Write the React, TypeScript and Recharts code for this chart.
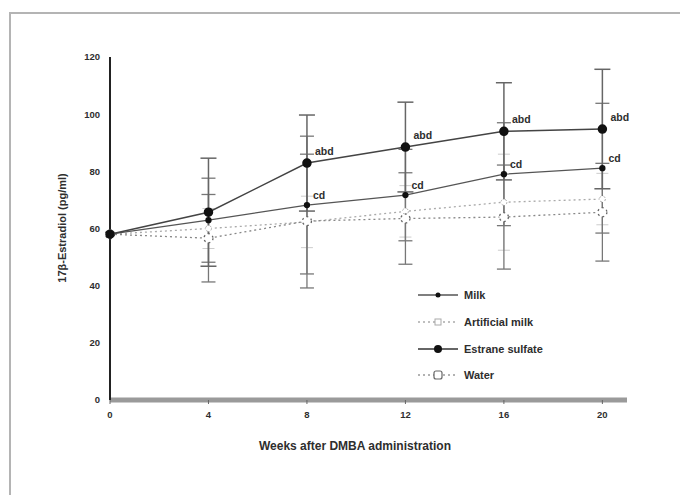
import {
  ErrorBar,
  LabelList,
  Legend,
  Line,
  LineChart,
  XAxis,
  YAxis,
} from 'recharts'

const weeks = [0, 4, 8, 12, 16, 20]
const milk = [58, 62.9, 68.2, 71.7, 79, 81.1]
const artificialMilk = [58, 60, 62.3, 66, 69.2, 70.3]
const estrane = [58, 65.7, 82.9, 88.5, 94, 94.8]
const water = [58, 56.6, 62.6, 63.5, 64, 65.7]

const milkErr = [0, 14.7, 24.1, 16, 18, 22.7]
const artificialErr = [0, 7, 9, 9, 16.8, 9]
const estraneErr = [0, 18.9, 16.8, 15.7, 17, 20.9]
const waterErr = [0, 15.3, 23.4, 16, 18.2, 17.1]

const milkMarks = ['', '', 'cd', 'cd', 'cd', 'cd']
const estraneMarks = ['', '', 'abd', 'abd', 'abd', 'abd']

const xTicks = [0, 4, 8, 12, 16, 20]
const yTicks = [0, 20, 40, 60, 80, 100, 120]

const data = weeks.map((week, i) => ({
  week,
  milk: milk[i],
  artificialMilk: artificialMilk[i],
  estrane: estrane[i],
  water: water[i],
  milkErr: milkErr[i],
  artificialErr: artificialErr[i],
  estraneErr: estraneErr[i],
  waterErr: waterErr[i],
  milkMark: milkMarks[i],
  estraneMark: estraneMarks[i],
}))

const FONT = '"Liberation Sans", Arial, sans-serif'
const INK = '#2e2e2e'

const W = 680
const H = 487
const margin = { top: 49, right: 61, bottom: 55, left: 42 }

const legendItems = [
  { name: 'Milk', stroke: '#555', dash: undefined, marker: 'dot' },
  { name: 'Artificial milk', stroke: '#aaa', dash: '2 3', marker: 'square' },
  { name: 'Estrane sulfate', stroke: '#333', dash: undefined, marker: 'big' },
  { name: 'Water', stroke: '#999', dash: '2 3', marker: 'open' },
]

const renderLegend = () => (
  <div style={{ fontFamily: FONT }}>
    {legendItems.map((it) => (
      <div
        key={it.name}
        style={{ display: 'flex', alignItems: 'center', height: 26.7 }}
      >
        <svg width={44} height={12}>
          <line
            x1={0}
            y1={6}
            x2={40}
            y2={6}
            stroke={it.stroke}
            strokeWidth={1.3}
            strokeDasharray={it.dash}
          />
          {it.marker === 'dot' && <circle cx={20} cy={6} r={2.5} fill="#111" />}
          {it.marker === 'big' && <circle cx={20} cy={6} r={4} fill="#111" />}
          {it.marker === 'square' && (
            <rect x={17} y={3} width={6} height={6} fill="#fff" stroke="#aaa" />
          )}
          {it.marker === 'open' && (
            <rect x={16} y={2} width={8} height={8} rx={2} fill="#fff" stroke="#666" strokeWidth={1.2} />
          )}
        </svg>
        <span style={{ fontSize: 11, fontWeight: 'bold', color: INK, marginLeft: 2 }}>
          {it.name}
        </span>
      </div>
    ))}
  </div>
)

const markLabel = (dx: number, dy: number) => (props: any) => {
  const { x, y, value } = props
  if (!value) return null
  return (
    <text
      x={x + dx}
      y={y + dy}
      fontSize={10.5}
      fontWeight="bold"
      fill={INK}
      fontFamily={FONT}
    >
      {value}
    </text>
  )
}

export default function App() {
  return (
    <div style={{ position: 'relative', width: W, height: H, fontFamily: FONT }}>
      <div
        style={{
          position: 'absolute',
          left: 1,
          top: 4,
          width: W + 20,
          height: H + 20,
          borderTop: '2px solid #b4b4b4',
          borderLeft: '2px solid #b4b4b4',
        }}
      />
      <LineChart width={W} height={H} data={data} margin={margin}>
        <XAxis
          dataKey="week"
          type="number"
          domain={[0, 21]}
          ticks={xTicks}
          height={40}
          axisLine={{ stroke: '#9a9a9a', strokeWidth: 5 }}
          tickLine={{ stroke: '#666' }}
          tickSize={4}
          tickMargin={7}
          tick={{ fontSize: 9.5, fontWeight: 'bold', fill: INK, fontFamily: FONT }}
          label={{
            content: () => (
              <text
                x={347}
                y={442}
                textAnchor="middle"
                fontSize={12}
                fontWeight="bold"
                fill={INK}
                fontFamily={FONT}
              >
                Weeks after DMBA administration
              </text>
            ),
          }}
        />
        <YAxis
          type="number"
          domain={[0, 120]}
          ticks={yTicks}
          width={60}
          axisLine={{ stroke: '#222', strokeWidth: 2 }}
          tickLine={false}
          tickSize={4}
          tickMargin={6}
          tick={{ fontSize: 9.5, fontWeight: 'bold', fill: INK, fontFamily: FONT }}
          label={{
            content: () => (
              <text
                x={58}
                y={220}
                transform="rotate(-90 58 220)"
                textAnchor="middle"
                fontSize={11}
                fontWeight="bold"
                fill={INK}
                fontFamily={FONT}
              >
                17β-Estradiol (pg/ml)
              </text>
            ),
          }}
        />
        <Legend
          layout="vertical"
          align="center"
          verticalAlign="middle"
          content={renderLegend}
          wrapperStyle={{ left: 410, top: 274, width: 170 }}
        />
        <Line
          name="Artificial milk"
          dataKey="artificialMilk"
          stroke="#aaa"
          strokeWidth={1.3}
          strokeDasharray="2 3"
          dot={{ r: 3, fill: '#fff', stroke: '#aaa', strokeWidth: 1 }}
          isAnimationActive={false}
        >
          <ErrorBar dataKey="artificialErr" stroke="#ccc" width={6} strokeWidth={1} />
        </Line>
        <Line
          name="Water"
          dataKey="water"
          stroke="#888"
          strokeWidth={1.3}
          strokeDasharray="2 3"
          dot={{ r: 4.5, fill: '#fff', stroke: '#666', strokeWidth: 1.3 }}
          isAnimationActive={false}
        >
          <ErrorBar dataKey="waterErr" stroke="#777" width={7} strokeWidth={1.3} />
        </Line>
        <Line
          name="Milk"
          dataKey="milk"
          stroke="#555"
          strokeWidth={1.3}
          dot={{ r: 2.5, fill: '#111', stroke: '#111' }}
          isAnimationActive={false}
        >
          <ErrorBar dataKey="milkErr" stroke="#777" width={7} strokeWidth={1.3} />
          <LabelList dataKey="milkMark" content={markLabel(6, -6)} />
        </Line>
        <Line
          name="Estrane sulfate"
          dataKey="estrane"
          stroke="#444"
          strokeWidth={1.5}
          dot={{ r: 4, fill: '#111', stroke: '#111' }}
          isAnimationActive={false}
        >
          <ErrorBar dataKey="estraneErr" stroke="#666" width={8} strokeWidth={1.5} />
          <LabelList dataKey="estraneMark" content={markLabel(8, -8)} />
        </Line>
      </LineChart>
    </div>
  )
}
